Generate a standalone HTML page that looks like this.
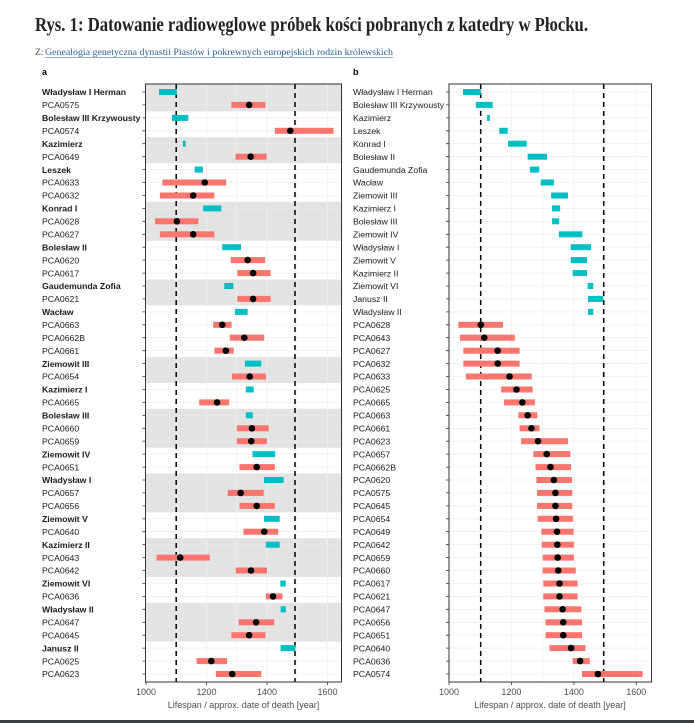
<!DOCTYPE html>
<html><head><meta charset="utf-8"><style>
html,body{margin:0;padding:0;background:#fff;}
svg{display:block;}
text{font-family:"Liberation Sans",sans-serif;}
.lb{font-size:8.7px;fill:#1a1a1a;}
.b{font-weight:bold;}
.tk{font-size:9px;fill:#4d4d4d;}
</style></head><body>
<svg width="694" height="723" viewBox="0 0 694 723" xmlns="http://www.w3.org/2000/svg">
<rect width="694" height="723" fill="#fff"/>
<text x="35" y="31" font-weight="bold" font-size="20" fill="#222" textLength="553" lengthAdjust="spacingAndGlyphs" style="font-family:'Liberation Serif',serif">Rys. 1: Datowanie radiowęglowe próbek kości pobranych z katedry w Płocku.</text>
<text x="35" y="55" font-size="9.5" fill="#444" style="font-family:'Liberation Serif',serif">Z: </text>
<text x="45" y="55" font-size="9.5" fill="#2a6496" textLength="348" lengthAdjust="spacingAndGlyphs" style="font-family:'Liberation Serif',serif">Genealogia genetyczna dynastii Piastów i pokrewnych europejskich rodzin królewskich</text>
<line x1="45" y1="57.5" x2="393" y2="57.5" stroke="#2a6496" stroke-width="0.6"/>
<text x="42" y="75" font-size="9" font-weight="bold">a</text>
<text x="353" y="75" font-size="9" font-weight="bold">b</text>

<!-- PANEL A -->
<rect x="145.5" y="84" width="196" height="598" fill="#fff"/>
<g fill="#e3e3e3">
<rect x="145.5" y="84" width="196" height="27.4"/>
<rect x="145.5" y="137.2" width="196" height="26"/>
<rect x="145.5" y="201.9" width="196" height="38.9"/>
<rect x="145.5" y="279.5" width="196" height="25.9"/>
<rect x="145.5" y="357.1" width="196" height="25.9"/>
<rect x="145.5" y="408.8" width="196" height="38.9"/>
<rect x="145.5" y="473.5" width="196" height="38.9"/>
<rect x="145.5" y="538.2" width="196" height="38.8"/>
<rect x="145.5" y="602.8" width="196" height="38.9"/>
</g>
<g stroke="#f0f0f0" stroke-width="0.8">
<line x1="176.2" y1="84" x2="176.2" y2="682"/><line x1="206.5" y1="84" x2="206.5" y2="682"/><line x1="236.7" y1="84" x2="236.7" y2="682"/><line x1="267" y1="84" x2="267" y2="682"/><line x1="297.2" y1="84" x2="297.2" y2="682"/><line x1="327.5" y1="84" x2="327.5" y2="682"/>
</g>
<g id="hgA" stroke="#ececec" stroke-width="0.6">
<line x1="145.5" x2="341.5" y1="92" y2="92"/><line x1="145.5" x2="341.5" y1="104.9" y2="104.9"/><line x1="145.5" x2="341.5" y1="117.9" y2="117.9"/><line x1="145.5" x2="341.5" y1="130.8" y2="130.8"/><line x1="145.5" x2="341.5" y1="143.7" y2="143.7"/><line x1="145.5" x2="341.5" y1="156.7" y2="156.7"/><line x1="145.5" x2="341.5" y1="169.6" y2="169.6"/><line x1="145.5" x2="341.5" y1="182.5" y2="182.5"/><line x1="145.5" x2="341.5" y1="195.5" y2="195.5"/><line x1="145.5" x2="341.5" y1="208.4" y2="208.4"/><line x1="145.5" x2="341.5" y1="221.3" y2="221.3"/><line x1="145.5" x2="341.5" y1="234.3" y2="234.3"/><line x1="145.5" x2="341.5" y1="247.2" y2="247.2"/><line x1="145.5" x2="341.5" y1="260.1" y2="260.1"/><line x1="145.5" x2="341.5" y1="273.1" y2="273.1"/><line x1="145.5" x2="341.5" y1="286" y2="286"/><line x1="145.5" x2="341.5" y1="298.9" y2="298.9"/><line x1="145.5" x2="341.5" y1="311.9" y2="311.9"/><line x1="145.5" x2="341.5" y1="324.8" y2="324.8"/><line x1="145.5" x2="341.5" y1="337.7" y2="337.7"/><line x1="145.5" x2="341.5" y1="350.7" y2="350.7"/><line x1="145.5" x2="341.5" y1="363.6" y2="363.6"/><line x1="145.5" x2="341.5" y1="376.5" y2="376.5"/><line x1="145.5" x2="341.5" y1="389.5" y2="389.5"/><line x1="145.5" x2="341.5" y1="402.4" y2="402.4"/><line x1="145.5" x2="341.5" y1="415.3" y2="415.3"/><line x1="145.5" x2="341.5" y1="428.3" y2="428.3"/><line x1="145.5" x2="341.5" y1="441.2" y2="441.2"/><line x1="145.5" x2="341.5" y1="454.1" y2="454.1"/><line x1="145.5" x2="341.5" y1="467.1" y2="467.1"/><line x1="145.5" x2="341.5" y1="480" y2="480"/><line x1="145.5" x2="341.5" y1="492.9" y2="492.9"/><line x1="145.5" x2="341.5" y1="505.9" y2="505.9"/><line x1="145.5" x2="341.5" y1="518.8" y2="518.8"/><line x1="145.5" x2="341.5" y1="531.7" y2="531.7"/><line x1="145.5" x2="341.5" y1="544.7" y2="544.7"/><line x1="145.5" x2="341.5" y1="557.6" y2="557.6"/><line x1="145.5" x2="341.5" y1="570.5" y2="570.5"/><line x1="145.5" x2="341.5" y1="583.5" y2="583.5"/><line x1="145.5" x2="341.5" y1="596.4" y2="596.4"/><line x1="145.5" x2="341.5" y1="609.3" y2="609.3"/><line x1="145.5" x2="341.5" y1="622.3" y2="622.3"/><line x1="145.5" x2="341.5" y1="635.2" y2="635.2"/><line x1="145.5" x2="341.5" y1="648.1" y2="648.1"/><line x1="145.5" x2="341.5" y1="661.1" y2="661.1"/><line x1="145.5" x2="341.5" y1="674" y2="674"/>
</g>
<g stroke="#000" stroke-width="1.5" stroke-dasharray="5,4">
<line x1="176.2" y1="84" x2="176.2" y2="682"/><line x1="295" y1="84" x2="295" y2="682"/>
</g>
<g transform="translate(146,0) scale(0.3025,1) translate(-1000,0)">
<g fill="#00BFC4">
<rect x="1043" y="89" width="59" height="6"/>
<rect x="1086" y="114.9" width="54" height="6"/>
<rect x="1122" y="140.7" width="9" height="6"/>
<rect x="1161" y="166.6" width="27" height="6"/>
<rect x="1189" y="205.4" width="60" height="6"/>
<rect x="1252" y="244.2" width="62" height="6"/>
<rect x="1259" y="283" width="30" height="6"/>
<rect x="1294" y="308.9" width="42" height="6"/>
<rect x="1327" y="360.6" width="54" height="6"/>
<rect x="1330" y="386.5" width="26" height="6"/>
<rect x="1330" y="412.3" width="23" height="6"/>
<rect x="1352" y="451.1" width="75" height="6"/>
<rect x="1390" y="477" width="65" height="6"/>
<rect x="1390" y="515.8" width="52" height="6"/>
<rect x="1396" y="541.7" width="46" height="6"/>
<rect x="1444" y="580.5" width="18" height="6"/>
<rect x="1445" y="606.3" width="17" height="6"/>
<rect x="1445" y="645.1" width="49" height="6"/>
</g>
<g fill="#F8766D">
<rect x="1282" y="101.9" width="113" height="6"/>
<rect x="1426" y="127.8" width="194" height="6"/>
<rect x="1296" y="153.7" width="103" height="6"/>
<rect x="1054" y="179.5" width="211" height="6"/>
<rect x="1046" y="192.5" width="180" height="6"/>
<rect x="1030" y="218.3" width="143" height="6"/>
<rect x="1046" y="231.3" width="180" height="6"/>
<rect x="1280" y="257.1" width="114" height="6"/>
<rect x="1302" y="270.1" width="110" height="6"/>
<rect x="1302" y="295.9" width="110" height="6"/>
<rect x="1222" y="321.8" width="61" height="6"/>
<rect x="1277" y="334.7" width="114" height="6"/>
<rect x="1226" y="347.7" width="64" height="6"/>
<rect x="1284" y="373.5" width="113" height="6"/>
<rect x="1176" y="399.4" width="99" height="6"/>
<rect x="1300" y="425.3" width="106" height="6"/>
<rect x="1300" y="438.2" width="100" height="6"/>
<rect x="1309" y="464.1" width="117" height="6"/>
<rect x="1270" y="489.9" width="119" height="6"/>
<rect x="1309" y="502.9" width="117" height="6"/>
<rect x="1322" y="528.7" width="115" height="6"/>
<rect x="1035" y="554.6" width="176" height="6"/>
<rect x="1297" y="567.5" width="103" height="6"/>
<rect x="1396" y="593.4" width="55" height="6"/>
<rect x="1306" y="619.3" width="118" height="6"/>
<rect x="1282" y="632.2" width="113" height="6"/>
<rect x="1167" y="658.1" width="101" height="6"/>
<rect x="1231" y="671" width="150" height="6"/>
</g>
<g fill="#000">
<ellipse cx="1341" cy="104.9" rx="10.9" ry="3.3"/>
<ellipse cx="1477" cy="130.8" rx="10.9" ry="3.3"/>
<ellipse cx="1346" cy="156.7" rx="10.9" ry="3.3"/>
<ellipse cx="1194" cy="182.5" rx="10.9" ry="3.3"/>
<ellipse cx="1156" cy="195.5" rx="10.9" ry="3.3"/>
<ellipse cx="1102" cy="221.3" rx="10.9" ry="3.3"/>
<ellipse cx="1156" cy="234.3" rx="10.9" ry="3.3"/>
<ellipse cx="1336" cy="260.1" rx="10.9" ry="3.3"/>
<ellipse cx="1354" cy="273.1" rx="10.9" ry="3.3"/>
<ellipse cx="1354" cy="298.9" rx="10.9" ry="3.3"/>
<ellipse cx="1252" cy="324.8" rx="10.9" ry="3.3"/>
<ellipse cx="1325" cy="337.7" rx="10.9" ry="3.3"/>
<ellipse cx="1264" cy="350.7" rx="10.9" ry="3.3"/>
<ellipse cx="1343" cy="376.5" rx="10.9" ry="3.3"/>
<ellipse cx="1235" cy="402.4" rx="10.9" ry="3.3"/>
<ellipse cx="1350" cy="428.3" rx="10.9" ry="3.3"/>
<ellipse cx="1348" cy="441.2" rx="10.9" ry="3.3"/>
<ellipse cx="1366" cy="467.1" rx="10.9" ry="3.3"/>
<ellipse cx="1313" cy="492.9" rx="10.9" ry="3.3"/>
<ellipse cx="1366" cy="505.9" rx="10.9" ry="3.3"/>
<ellipse cx="1391" cy="531.7" rx="10.9" ry="3.3"/>
<ellipse cx="1113" cy="557.6" rx="10.9" ry="3.3"/>
<ellipse cx="1347" cy="570.5" rx="10.9" ry="3.3"/>
<ellipse cx="1420" cy="596.4" rx="10.9" ry="3.3"/>
<ellipse cx="1364" cy="622.3" rx="10.9" ry="3.3"/>
<ellipse cx="1341" cy="635.2" rx="10.9" ry="3.3"/>
<ellipse cx="1216" cy="661.1" rx="10.9" ry="3.3"/>
<ellipse cx="1285" cy="674" rx="10.9" ry="3.3"/>
</g>
</g>
<rect x="145.5" y="84" width="196" height="598" fill="none" stroke="#333" stroke-width="1"/>
<g stroke="#333" stroke-width="0.8">
<line x1="146" y1="682" x2="146" y2="685"/><line x1="206.5" y1="682" x2="206.5" y2="685"/><line x1="267" y1="682" x2="267" y2="685"/><line x1="327.5" y1="682" x2="327.5" y2="685"/>
</g>
<g class="tk" text-anchor="middle">
<text x="146" y="695">1000</text><text x="206.5" y="695">1200</text><text x="267" y="695">1400</text><text x="327.5" y="695">1600</text>
</g>
<text x="243.5" y="708" class="tk" text-anchor="middle" fill="#333">Lifespan / approx. date of death [year]</text>
<g stroke="#333" stroke-width="0.8">
<path d="M142.5 92h3M142.5 104.9h3M142.5 117.9h3M142.5 130.8h3M142.5 143.7h3M142.5 156.7h3M142.5 169.6h3M142.5 182.5h3M142.5 195.5h3M142.5 208.4h3M142.5 221.3h3M142.5 234.3h3M142.5 247.2h3M142.5 260.1h3M142.5 273.1h3M142.5 286h3M142.5 298.9h3M142.5 311.9h3M142.5 324.8h3M142.5 337.7h3M142.5 350.7h3M142.5 363.6h3M142.5 376.5h3M142.5 389.5h3M142.5 402.4h3M142.5 415.3h3M142.5 428.3h3M142.5 441.2h3M142.5 454.1h3M142.5 467.1h3M142.5 480h3M142.5 492.9h3M142.5 505.9h3M142.5 518.8h3M142.5 531.7h3M142.5 544.7h3M142.5 557.6h3M142.5 570.5h3M142.5 583.5h3M142.5 596.4h3M142.5 609.3h3M142.5 622.3h3M142.5 635.2h3M142.5 648.1h3M142.5 661.1h3M142.5 674h3"/>
<path d="M446 92h3M446 104.9h3M446 117.9h3M446 130.8h3M446 143.7h3M446 156.7h3M446 169.6h3M446 182.5h3M446 195.5h3M446 208.4h3M446 221.3h3M446 234.3h3M446 247.2h3M446 260.1h3M446 273.1h3M446 286h3M446 298.9h3M446 311.9h3M446 324.8h3M446 337.7h3M446 350.7h3M446 363.6h3M446 376.5h3M446 389.5h3M446 402.4h3M446 415.3h3M446 428.3h3M446 441.2h3M446 454.1h3M446 467.1h3M446 480h3M446 492.9h3M446 505.9h3M446 518.8h3M446 531.7h3M446 544.7h3M446 557.6h3M446 570.5h3M446 583.5h3M446 596.4h3M446 609.3h3M446 622.3h3M446 635.2h3M446 648.1h3M446 661.1h3M446 674h3"/>
</g>
<g class="lb" transform="translate(0,3.2)">
<text x="42" y="92" class="b">Władysław I Herman</text>
<text x="42" y="104.9">PCA0575</text>
<text x="42" y="117.9" class="b">Bolesław III Krzywousty</text>
<text x="42" y="130.8">PCA0574</text>
<text x="42" y="143.7" class="b">Kazimierz</text>
<text x="42" y="156.7">PCA0649</text>
<text x="42" y="169.6" class="b">Leszek</text>
<text x="42" y="182.5">PCA0633</text>
<text x="42" y="195.5">PCA0632</text>
<text x="42" y="208.4" class="b">Konrad I</text>
<text x="42" y="221.3">PCA0628</text>
<text x="42" y="234.3">PCA0627</text>
<text x="42" y="247.2" class="b">Bolesław II</text>
<text x="42" y="260.1">PCA0620</text>
<text x="42" y="273.1">PCA0617</text>
<text x="42" y="286" class="b">Gaudemunda Zofia</text>
<text x="42" y="298.9">PCA0621</text>
<text x="42" y="311.9" class="b">Wacław</text>
<text x="42" y="324.8">PCA0663</text>
<text x="42" y="337.7">PCA0662B</text>
<text x="42" y="350.7">PCA0661</text>
<text x="42" y="363.6" class="b">Ziemowit III</text>
<text x="42" y="376.5">PCA0654</text>
<text x="42" y="389.5" class="b">Kazimierz I</text>
<text x="42" y="402.4">PCA0665</text>
<text x="42" y="415.3" class="b">Bolesław III</text>
<text x="42" y="428.3">PCA0660</text>
<text x="42" y="441.2">PCA0659</text>
<text x="42" y="454.1" class="b">Ziemowit IV</text>
<text x="42" y="467.1">PCA0651</text>
<text x="42" y="480" class="b">Władysław I</text>
<text x="42" y="492.9">PCA0657</text>
<text x="42" y="505.9">PCA0656</text>
<text x="42" y="518.8" class="b">Ziemowit V</text>
<text x="42" y="531.7">PCA0640</text>
<text x="42" y="544.7" class="b">Kazimierz II</text>
<text x="42" y="557.6">PCA0643</text>
<text x="42" y="570.5">PCA0642</text>
<text x="42" y="583.5" class="b">Ziemowit VI</text>
<text x="42" y="596.4">PCA0636</text>
<text x="42" y="609.3" class="b">Władysław II</text>
<text x="42" y="622.3">PCA0647</text>
<text x="42" y="635.2">PCA0645</text>
<text x="42" y="648.1" class="b">Janusz II</text>
<text x="42" y="661.1">PCA0625</text>
<text x="42" y="674">PCA0623</text>
</g>

<!-- PANEL B -->
<g stroke="#f0f0f0" stroke-width="0.8">
<line x1="480.2" y1="84" x2="480.2" y2="682"/><line x1="511.4" y1="84" x2="511.4" y2="682"/><line x1="542.7" y1="84" x2="542.7" y2="682"/><line x1="573.9" y1="84" x2="573.9" y2="682"/><line x1="605.1" y1="84" x2="605.1" y2="682"/><line x1="636.3" y1="84" x2="636.3" y2="682"/>
</g>
<use href="#hgA" transform="translate(303.5,0) scale(1.033,1) translate(-4.8,0)"/>
<g stroke="#000" stroke-width="1.5" stroke-dasharray="5,4">
<line x1="480.7" y1="84" x2="480.7" y2="682"/><line x1="603.7" y1="84" x2="603.7" y2="682"/>
</g>
<g transform="translate(449,0) scale(0.3122,1) translate(-1000,0)">
<g fill="#00BFC4">
<rect x="1045" y="89" width="57" height="6"/>
<rect x="1086" y="101.9" width="54" height="6"/>
<rect x="1122" y="114.9" width="9" height="6"/>
<rect x="1161" y="127.8" width="27" height="6"/>
<rect x="1189" y="140.7" width="60" height="6"/>
<rect x="1252" y="153.7" width="62" height="6"/>
<rect x="1259" y="166.6" width="30" height="6"/>
<rect x="1294" y="179.5" width="42" height="6"/>
<rect x="1327" y="192.5" width="54" height="6"/>
<rect x="1330" y="205.4" width="26" height="6"/>
<rect x="1330" y="218.3" width="23" height="6"/>
<rect x="1352" y="231.3" width="75" height="6"/>
<rect x="1390" y="244.2" width="65" height="6"/>
<rect x="1390" y="257.1" width="52" height="6"/>
<rect x="1396" y="270.1" width="46" height="6"/>
<rect x="1444" y="283" width="18" height="6"/>
<rect x="1445" y="295.9" width="49" height="6"/>
<rect x="1445" y="308.9" width="17" height="6"/>
</g>
<g fill="#F8766D">
<rect x="1030" y="321.8" width="143" height="6"/>
<rect x="1035" y="334.7" width="176" height="6"/>
<rect x="1046" y="347.7" width="180" height="6"/>
<rect x="1046" y="360.6" width="180" height="6"/>
<rect x="1054" y="373.5" width="211" height="6"/>
<rect x="1167" y="386.5" width="101" height="6"/>
<rect x="1176" y="399.4" width="99" height="6"/>
<rect x="1222" y="412.3" width="61" height="6"/>
<rect x="1226" y="425.3" width="64" height="6"/>
<rect x="1231" y="438.2" width="150" height="6"/>
<rect x="1270" y="451.1" width="119" height="6"/>
<rect x="1277" y="464.1" width="114" height="6"/>
<rect x="1280" y="477" width="114" height="6"/>
<rect x="1282" y="489.9" width="113" height="6"/>
<rect x="1282" y="502.9" width="113" height="6"/>
<rect x="1284" y="515.8" width="113" height="6"/>
<rect x="1296" y="528.7" width="103" height="6"/>
<rect x="1297" y="541.7" width="103" height="6"/>
<rect x="1300" y="554.6" width="100" height="6"/>
<rect x="1300" y="567.5" width="106" height="6"/>
<rect x="1302" y="580.5" width="110" height="6"/>
<rect x="1302" y="593.4" width="110" height="6"/>
<rect x="1306" y="606.3" width="118" height="6"/>
<rect x="1309" y="619.3" width="117" height="6"/>
<rect x="1309" y="632.2" width="117" height="6"/>
<rect x="1322" y="645.1" width="115" height="6"/>
<rect x="1396" y="658.1" width="55" height="6"/>
<rect x="1426" y="671" width="194" height="6"/>
</g>
<g fill="#000">
<ellipse cx="1102" cy="324.8" rx="10.6" ry="3.3"/>
<ellipse cx="1113" cy="337.7" rx="10.6" ry="3.3"/>
<ellipse cx="1156" cy="350.7" rx="10.6" ry="3.3"/>
<ellipse cx="1156" cy="363.6" rx="10.6" ry="3.3"/>
<ellipse cx="1194" cy="376.5" rx="10.6" ry="3.3"/>
<ellipse cx="1216" cy="389.5" rx="10.6" ry="3.3"/>
<ellipse cx="1235" cy="402.4" rx="10.6" ry="3.3"/>
<ellipse cx="1252" cy="415.3" rx="10.6" ry="3.3"/>
<ellipse cx="1264" cy="428.3" rx="10.6" ry="3.3"/>
<ellipse cx="1285" cy="441.2" rx="10.6" ry="3.3"/>
<ellipse cx="1313" cy="454.1" rx="10.6" ry="3.3"/>
<ellipse cx="1325" cy="467.1" rx="10.6" ry="3.3"/>
<ellipse cx="1336" cy="480" rx="10.6" ry="3.3"/>
<ellipse cx="1341" cy="492.9" rx="10.6" ry="3.3"/>
<ellipse cx="1341" cy="505.9" rx="10.6" ry="3.3"/>
<ellipse cx="1343" cy="518.8" rx="10.6" ry="3.3"/>
<ellipse cx="1346" cy="531.7" rx="10.6" ry="3.3"/>
<ellipse cx="1347" cy="544.7" rx="10.6" ry="3.3"/>
<ellipse cx="1348" cy="557.6" rx="10.6" ry="3.3"/>
<ellipse cx="1350" cy="570.5" rx="10.6" ry="3.3"/>
<ellipse cx="1354" cy="583.5" rx="10.6" ry="3.3"/>
<ellipse cx="1354" cy="596.4" rx="10.6" ry="3.3"/>
<ellipse cx="1364" cy="609.3" rx="10.6" ry="3.3"/>
<ellipse cx="1366" cy="622.3" rx="10.6" ry="3.3"/>
<ellipse cx="1366" cy="635.2" rx="10.6" ry="3.3"/>
<ellipse cx="1391" cy="648.1" rx="10.6" ry="3.3"/>
<ellipse cx="1420" cy="661.1" rx="10.6" ry="3.3"/>
<ellipse cx="1477" cy="674" rx="10.6" ry="3.3"/>
</g>
</g>
<rect x="449" y="84" width="202.5" height="598" fill="none" stroke="#333" stroke-width="1"/>
<g stroke="#333" stroke-width="0.8">
<line x1="449" y1="682" x2="449" y2="685"/><line x1="511.4" y1="682" x2="511.4" y2="685"/><line x1="573.9" y1="682" x2="573.9" y2="685"/><line x1="636.3" y1="682" x2="636.3" y2="685"/>
</g>
<g class="tk" text-anchor="middle">
<text x="449" y="695">1000</text><text x="511.4" y="695">1200</text><text x="573.9" y="695">1400</text><text x="636.3" y="695">1600</text>
</g>
<text x="550" y="708" class="tk" text-anchor="middle" fill="#333">Lifespan / approx. date of death [year]</text>
<g class="lb" transform="translate(0,3.2)">
<text x="353" y="92">Władysław I Herman</text>
<text x="353" y="104.9">Bolesław III Krzywousty</text>
<text x="353" y="117.9">Kazimierz</text>
<text x="353" y="130.8">Leszek</text>
<text x="353" y="143.7">Konrad I</text>
<text x="353" y="156.7">Bolesław II</text>
<text x="353" y="169.6">Gaudemunda Zofia</text>
<text x="353" y="182.5">Wacław</text>
<text x="353" y="195.5">Ziemowit III</text>
<text x="353" y="208.4">Kazimierz I</text>
<text x="353" y="221.3">Bolesław III</text>
<text x="353" y="234.3">Ziemowit IV</text>
<text x="353" y="247.2">Władysław I</text>
<text x="353" y="260.1">Ziemowit V</text>
<text x="353" y="273.1">Kazimierz II</text>
<text x="353" y="286">Ziemowit VI</text>
<text x="353" y="298.9">Janusz II</text>
<text x="353" y="311.9">Władysław II</text>
<text x="353" y="324.8">PCA0628</text>
<text x="353" y="337.7">PCA0643</text>
<text x="353" y="350.7">PCA0627</text>
<text x="353" y="363.6">PCA0632</text>
<text x="353" y="376.5">PCA0633</text>
<text x="353" y="389.5">PCA0625</text>
<text x="353" y="402.4">PCA0665</text>
<text x="353" y="415.3">PCA0663</text>
<text x="353" y="428.3">PCA0661</text>
<text x="353" y="441.2">PCA0623</text>
<text x="353" y="454.1">PCA0657</text>
<text x="353" y="467.1">PCA0662B</text>
<text x="353" y="480">PCA0620</text>
<text x="353" y="492.9">PCA0575</text>
<text x="353" y="505.9">PCA0645</text>
<text x="353" y="518.8">PCA0654</text>
<text x="353" y="531.7">PCA0649</text>
<text x="353" y="544.7">PCA0642</text>
<text x="353" y="557.6">PCA0659</text>
<text x="353" y="570.5">PCA0660</text>
<text x="353" y="583.5">PCA0617</text>
<text x="353" y="596.4">PCA0621</text>
<text x="353" y="609.3">PCA0647</text>
<text x="353" y="622.3">PCA0656</text>
<text x="353" y="635.2">PCA0651</text>
<text x="353" y="648.1">PCA0640</text>
<text x="353" y="661.1">PCA0636</text>
<text x="353" y="674">PCA0574</text>
</g>
<rect x="0" y="720" width="694" height="3" fill="#3a3f44"/>
</svg>
</body></html>
